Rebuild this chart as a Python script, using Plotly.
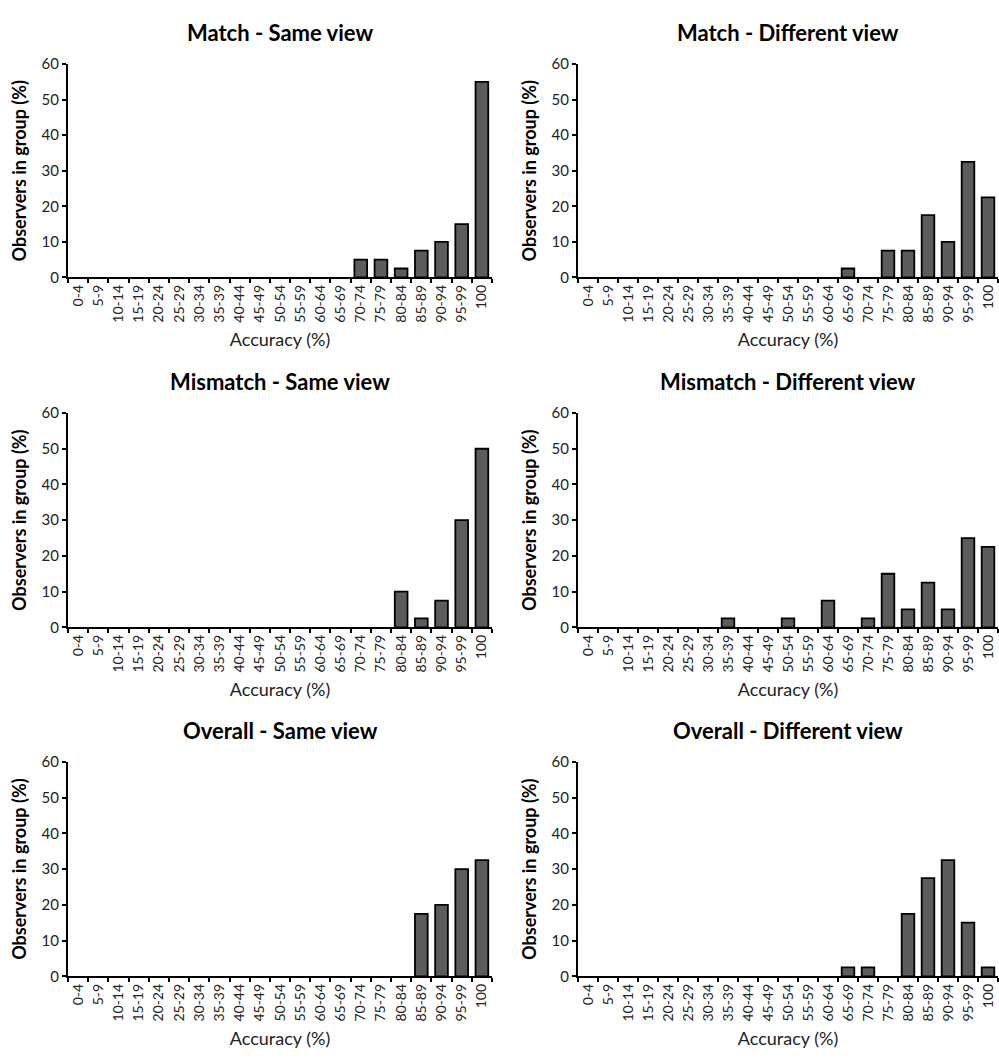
import plotly.graph_objects as go

categories = ["0-4", "5-9", "10-14", "15-19", "20-24", "25-29", "30-34", "35-39",
              "40-44", "45-49", "50-54", "55-59", "60-64", "65-69", "70-74", "75-79",
              "80-84", "85-89", "90-94", "95-99", "100"]

match_same = [0, 0, 0, 0, 0, 0, 0, 0, 0, 0, 0, 0, 0, 0, 5, 5, 2.5, 7.5, 10, 15, 55]
match_diff = [0, 0, 0, 0, 0, 0, 0, 0, 0, 0, 0, 0, 0, 2.5, 0, 7.5, 7.5, 17.5, 10, 32.5, 22.5]
mismatch_same = [0, 0, 0, 0, 0, 0, 0, 0, 0, 0, 0, 0, 0, 0, 0, 0, 10, 2.5, 7.5, 30, 50]
mismatch_diff = [0, 0, 0, 0, 0, 0, 0, 2.5, 0, 0, 2.5, 0, 7.5, 0, 2.5, 15, 5, 12.5, 5, 25, 22.5]
overall_same = [0, 0, 0, 0, 0, 0, 0, 0, 0, 0, 0, 0, 0, 0, 0, 0, 0, 17.5, 20, 30, 32.5]
overall_diff = [0, 0, 0, 0, 0, 0, 0, 0, 0, 0, 0, 0, 0, 2.5, 2.5, 0, 17.5, 27.5, 32.5, 15, 2.5]

titles = ["Match - Same view", "Match - Different view",
          "Mismatch - Same view", "Mismatch - Different view",
          "Overall - Same view", "Overall - Different view"]
series = [match_same, match_diff, mismatch_same, mismatch_diff, overall_same, overall_diff]

y_ticks = [0, 10, 20, 30, 40, 50, 60]
x_title = "Accuracy (%)"
y_title = "Observers in group (%)"

W, H = 999, 1059
col_x = [(68, 492), (578, 998)]
row_y = [(55, 272), (410, 628), (765, 983)]

FONT = "Lato, 'Open Sans', sans-serif"

fig = go.Figure()
annotations = []
for i, (vals, title) in enumerate(zip(series, titles)):
    r, c = divmod(i, 2)
    n = i + 1
    xa = "x" if n == 1 else f"x{n}"
    ya = "y" if n == 1 else f"y{n}"
    fig.add_trace(go.Bar(
        x=categories, y=vals, xaxis=xa, yaxis=ya,
        marker=dict(color="#5c5c5c",
                    line=dict(color="black", width=[1.8 if v > 0 else 0 for v in vals])),
        showlegend=False,
    ))
    x0, x1 = col_x[c]
    yt, yb = row_y[r]
    xdom = [x0 / W, x1 / W]
    ydom = [1 - yb / H, 1 - yt / H]
    xkey = "xaxis" if n == 1 else f"xaxis{n}"
    ykey = "yaxis" if n == 1 else f"yaxis{n}"
    fig.layout[xkey] = dict(
        domain=xdom, anchor=ya, type="category",
        categoryorder="array", categoryarray=categories,
        tickangle=-90, tickson="boundaries", ticks="outside", ticklen=4,
        tickwidth=2, tickcolor="black",
        showline=True, linecolor="black", linewidth=2, showgrid=False,
        tickfont=dict(size=14, color="#222", family=FONT),
        title=dict(text=x_title, font=dict(size=18, color="#222", family=FONT), standoff=12),
        fixedrange=True,
    )
    fig.layout[ykey] = dict(
        domain=ydom, anchor=xa, range=[0, 60], tickvals=y_ticks,
        ticks="outside", ticklen=4, tickwidth=2, tickcolor="black",
        showline=True, linecolor="black", linewidth=2, showgrid=False,
        zeroline=False,
        tickfont=dict(size=15, color="#222", family=FONT),
        title=dict(text=f"<b>{y_title}</b>", font=dict(size=18, color="black", family=FONT), standoff=10),
        fixedrange=True,
    )
    annotations.append(dict(
        text=f"<b>{title}</b>", x=(xdom[0] + xdom[1]) / 2, y=1 - (yt - 32) / H,
        xref="paper", yref="paper", xanchor="center", yanchor="middle",
        showarrow=False, font=dict(size=22, color="black", family=FONT),
    ))

fig.update_layout(
    width=W, height=H, margin=dict(l=0, r=0, t=0, b=0),
    paper_bgcolor="white", plot_bgcolor="white",
    bargap=0.37, annotations=annotations,
    font=dict(family=FONT),
)

fig.write_html("out.html")
